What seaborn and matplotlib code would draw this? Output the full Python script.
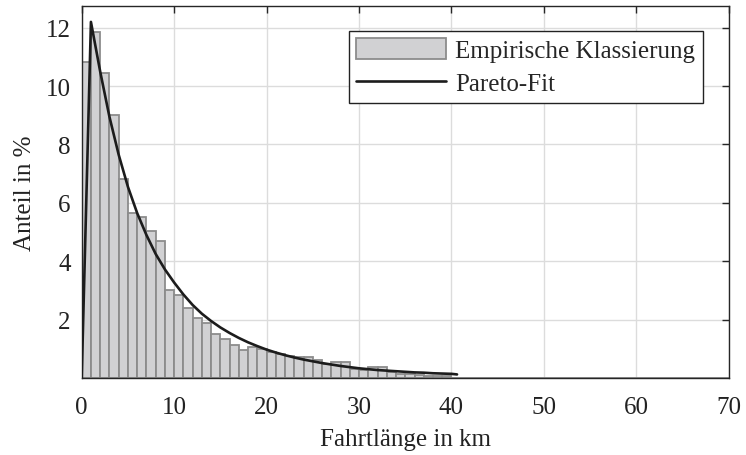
import numpy as np
import pandas as pd
import matplotlib
matplotlib.use("Agg")
import matplotlib.pyplot as plt
import seaborn as sns

# Empirical trip-length classes (1 km bins, share in %)
bin_left_km = list(range(0, 70))
share_pct = [10.81, 11.87, 10.45, 9.00, 6.80, 5.65, 5.51, 5.03, 4.70, 3.03,
             2.83, 2.41, 2.04, 1.89, 1.51, 1.34, 1.14, 0.95, 1.05, 0.99,
             0.88, 0.82, 0.75, 0.73, 0.73, 0.61, 0.48, 0.53, 0.53, 0.30,
             0.27, 0.36, 0.36, 0.20, 0.15, 0.12, 0.10, 0.08, 0.06, 0.05] + [0.0] * 30

# Pareto fit evaluated along the trip length
fit_km = [0, 1, 2, 3, 4, 5, 6, 7, 8, 9, 10, 11, 12, 13, 14, 15, 16, 17, 18, 19, 20,
          21, 22, 23, 24, 25, 26, 27, 28, 29, 30, 31, 32, 33, 34, 35, 36, 37, 38,
          39, 40, 40.6]
fit_pct = [0.0, 12.2, 10.5, 8.95, 7.65, 6.55, 5.65, 4.90, 4.25, 3.72, 3.27,
           2.86, 2.50, 2.20, 1.95, 1.73, 1.54, 1.37, 1.22, 1.09, 0.97,
           0.87, 0.78, 0.70, 0.63, 0.57, 0.51, 0.46, 0.41, 0.37, 0.33,
           0.30, 0.27, 0.25, 0.23, 0.21, 0.19, 0.18, 0.16, 0.15, 0.14, 0.12]

x_ticks = [0, 10, 20, 30, 40, 50, 60, 70]
y_ticks = [2, 4, 6, 8, 10, 12]

sns.set_theme(style="white")
plt.rcParams["font.family"] = ["Liberation Serif", "DejaVu Serif"]

hist_df = pd.DataFrame({"km": np.array(bin_left_km) + 0.5, "anteil": share_pct})
fit_df = pd.DataFrame({"km": fit_km, "anteil": fit_pct})

fig = plt.figure(figsize=(7.46, 4.56), dpi=100)
ax = fig.add_axes([0.1095, 0.169, 0.8675, 0.816])

ax.grid(True, color="#dcdcdc", linewidth=1.0, zorder=0)
ax.set_axisbelow(True)

sns.histplot(data=hist_df, x="km", weights="anteil", binwidth=1, binrange=(0, 70),
             color="#d1d1d3", edgecolor="#8c8c8c", linewidth=1.3, alpha=1.0,
             ax=ax, label="Empirische Klassierung", zorder=2)
sns.lineplot(data=fit_df, x="km", y="anteil", color="#1c1c1c", linewidth=1.9,
             ax=ax, label="Pareto-Fit", zorder=3)

ax.set_xlim(0, 70)
ax.set_ylim(0, 12.75)
ax.set_xticks(x_ticks)
ax.set_yticks(y_ticks)
ax.tick_params(axis="both", direction="in", length=5, width=1.0, color="#262626",
               labelsize=18, labelcolor="#222222", top=True, right=True)
ax.tick_params(axis="x", pad=13)
ax.tick_params(axis="y", pad=8)
for s in ax.spines.values():
    s.set_color("#262626")
    s.set_linewidth(1.0)
    s.set_visible(True)

ax.set_xlabel("Fahrtlänge in km", fontsize=18, color="#222222", labelpad=7)
ax.set_ylabel("Anteil in %", fontsize=18, color="#222222", labelpad=7)

handles, labels = ax.get_legend_handles_labels()
order = [labels.index("Empirische Klassierung"), labels.index("Pareto-Fit")]
leg = ax.legend([handles[i] for i in order], [labels[i] for i in order],
                loc="upper right", bbox_to_anchor=(0.960, 0.933), borderaxespad=0,
                fontsize=18, frameon=True, fancybox=False, framealpha=1,
                handlelength=3.6, handleheight=0.9, handletextpad=0.36,
                borderpad=0.3, labelspacing=0.35)
leg.get_frame().set_edgecolor("#222222")
leg.get_frame().set_linewidth(1.0)

fig.savefig("out.png", dpi=100)
